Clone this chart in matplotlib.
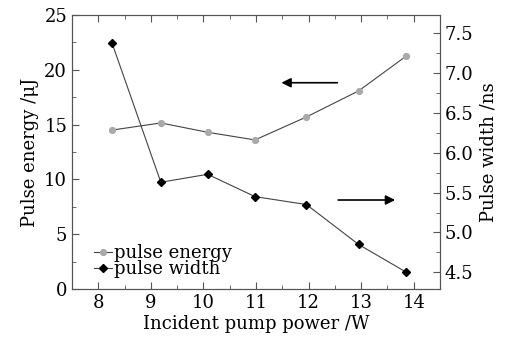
import numpy as np
import matplotlib.pyplot as plt
from matplotlib.ticker import MultipleLocator

# values
power = [8.26, 9.19, 10.08, 10.98, 11.96, 12.95, 13.86]
energy = [14.5, 15.15, 14.3, 13.6, 15.7, 18.07, 21.26]
width = [7.38, 5.63, 5.73, 5.45, 5.35, 4.85, 4.5]

plt.rcParams['font.family'] = ['DejaVu Serif']
plt.rcParams['font.size'] = 13
plt.rcParams['mathtext.fontset'] = 'dejavuserif'

fig = plt.figure(figsize=(5.09, 3.40), dpi=100)
ax = fig.add_axes([72/509, 51/340, 368/509, 274/340])
ax2 = ax.twinx()

line_col = '#444444'
l1, = ax.plot(power, energy, '-', color=line_col, lw=0.8, marker='o', ms=4.2,
              mfc='#aaaaaa', mec='#aaaaaa', label='pulse energy')
l2, = ax2.plot(power, width, '-', color=line_col, lw=0.8, marker='D', ms=3.8,
               mfc='black', mec='black', label='pulse width')

ax.set_xlim(7.5, 14.5)
ax.set_ylim(0, 25)
ax2.set_ylim(4.29, 7.73)

ax.xaxis.set_major_locator(MultipleLocator(1))
ax.xaxis.set_minor_locator(MultipleLocator(0.5))
ax.yaxis.set_major_locator(MultipleLocator(5))
ax.yaxis.set_minor_locator(MultipleLocator(2.5))
ax2.yaxis.set_major_locator(MultipleLocator(0.5))
ax2.yaxis.set_minor_locator(MultipleLocator(0.25))
ax2.yaxis.set_major_formatter(plt.FormatStrFormatter('%.1f'))

ax.tick_params(which='both', direction='in', top=True, right=False, color='#555555')
ax.tick_params(which='major', length=5)
ax.tick_params(which='minor', length=3)
ax2.tick_params(which='both', direction='in', color='#555555')
ax2.tick_params(which='major', length=5)
ax2.tick_params(which='minor', length=3)
for a in (ax, ax2):
    for s in a.spines.values():
        s.set_color('#555555')

ax.set_xlabel('Incident pump power /W', labelpad=2)
ax.set_ylabel('Pulse energy /μJ', labelpad=4)
ax2.set_ylabel('Pulse width /ns', labelpad=4)

ax.annotate('', xy=(11.43, 18.82), xytext=(12.6, 18.82),
            arrowprops=dict(arrowstyle='-|>', color='black', lw=1.2, mutation_scale=14))
ax.annotate('', xy=(13.7, 8.12), xytext=(12.51, 8.12),
            arrowprops=dict(arrowstyle='-|>', color='black', lw=1.2, mutation_scale=14))

ax.legend(handles=[l1, l2], loc='lower left', frameon=False, handlelength=1.0,
          handletextpad=0.1, labelspacing=-0.1, borderaxespad=0.2,
          bbox_to_anchor=(0.03, 0.0))

fig.savefig('out.png', dpi=100)
